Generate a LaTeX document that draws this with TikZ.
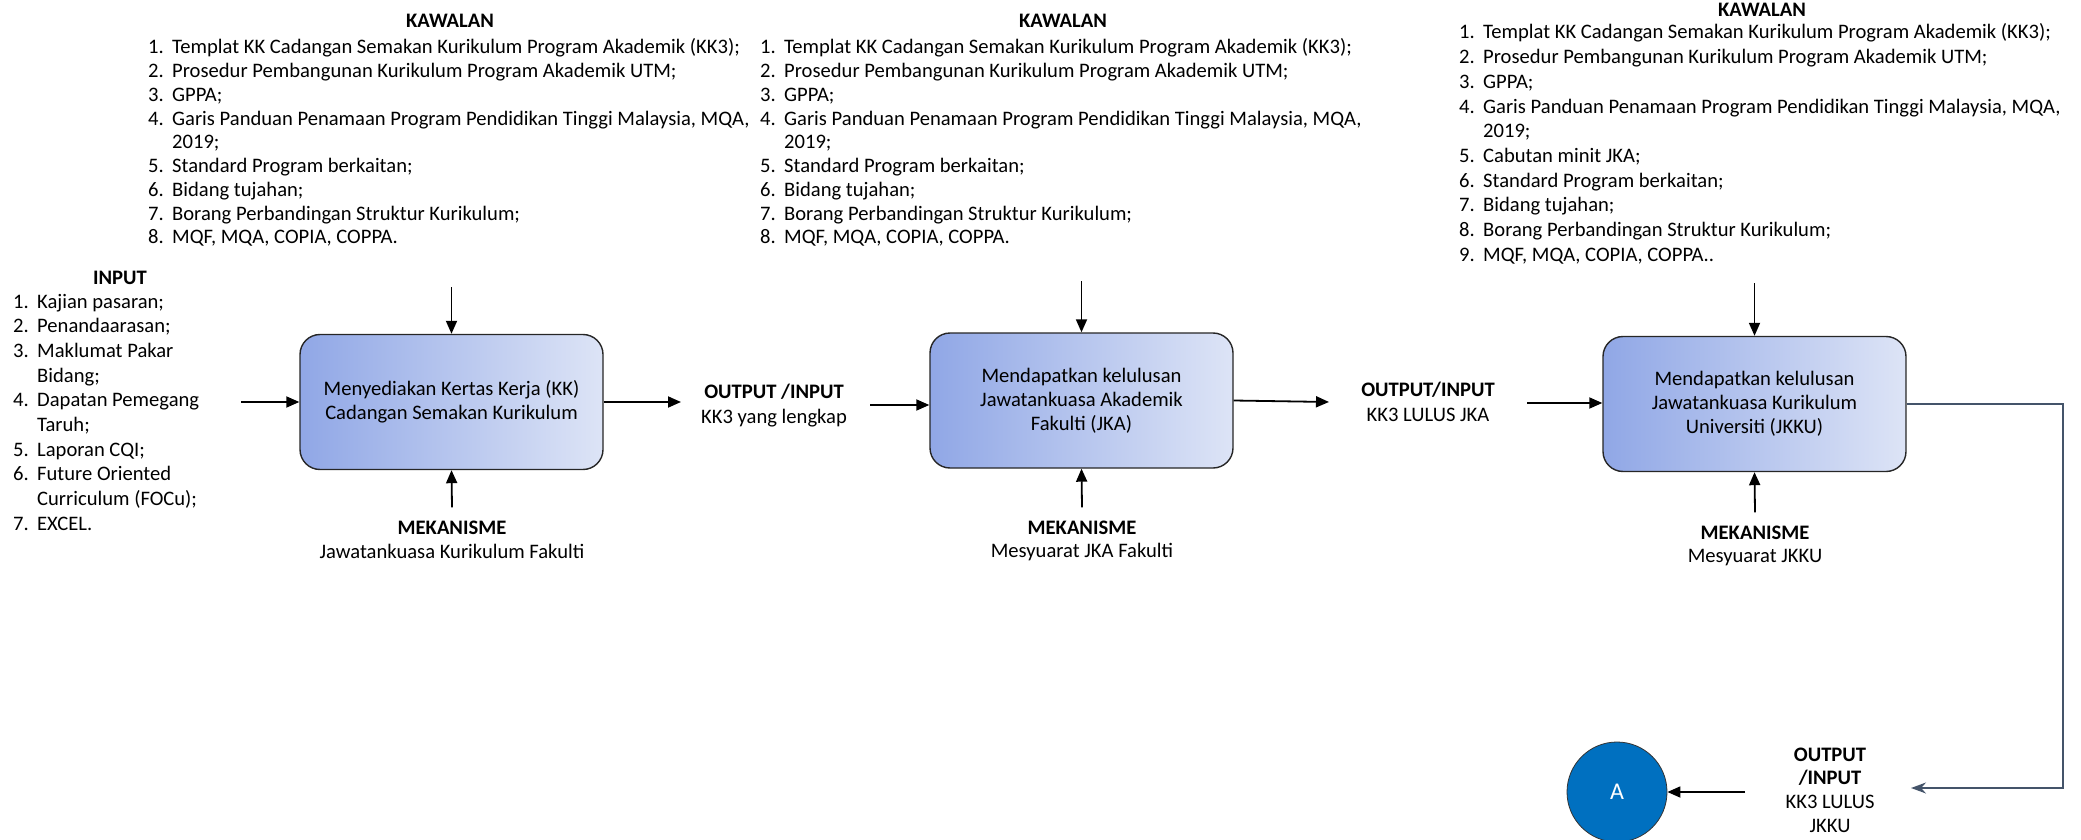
\documentclass[tikz,border=0pt]{standalone}
\usepackage{fontspec}
\setmainfont{Carlito}
\usetikzlibrary{arrows.meta,calc}
\newcommand\numit[1]{\makebox[24pt][l]{#1}}
\begin{document}
\begin{tikzpicture}[x=1pt,y=-1pt,
  txt/.style={font=\fontsize{20.6}{23.75}\selectfont, inner sep=0pt},
  lst/.style={txt, anchor=base west},
  lstw/.style={lst, font=\fontsize{20.6}{24.7}\selectfont},
  ttl/.style={font=\bfseries\fontsize{20.6}{24}\selectfont, inner sep=0pt, anchor=base},
  lbl/.style={txt, anchor=base},
  proc/.style={draw=black!85, line width=1.4pt, rounded corners=20pt,
    left color=boxL, right color=boxR, minimum width=303pt, minimum height=135pt,
    align=center, font=\fontsize{20.6}{24}\selectfont, inner sep=0pt},
  arr/.style={-{Triangle[length=13pt,width=11pt]}, line width=1.8pt},
  garr/.style={-{Stealth[length=15pt,width=11pt]}, line width=1.5pt, draw=slate},
]
\definecolor{boxL}{HTML}{90A7E6}
\definecolor{boxR}{HTML}{DDE4F6}
\definecolor{slate}{HTML}{44546A}
\definecolor{circA}{HTML}{0070C0}
\useasboundingbox (0,0) rectangle (2081,840);

% ---------- KAWALAN 1 ----------
\node[ttl] (kt1) at (450,28) {KAWALAN};
\node[lst] (kl1) at (148,54) {\begin{tabular}[t]{@{}l@{}}
\numit{1.}Templat KK Cadangan Semakan Kurikulum Program Akademik (KK3);\\
\numit{2.}Prosedur Pembangunan Kurikulum Program Akademik UTM;\\
\numit{3.}GPPA;\\
\numit{4.}Garis Panduan Penamaan Program Pendidikan Tinggi Malaysia, MQA,\\
\numit{}2019;\\
\numit{5.}Standard Program berkaitan;\\
\numit{6.}Bidang tujahan;\\
\numit{7.}Borang Perbandingan Struktur Kurikulum;\\
\numit{8.}MQF, MQA, COPIA, COPPA.
\end{tabular}};

% ---------- KAWALAN 2 ----------
\node[ttl] (kt2) at (1063,28) {KAWALAN};
\node[lst] (kl2) at (760,54) {\begin{tabular}[t]{@{}l@{}}
\numit{1.}Templat KK Cadangan Semakan Kurikulum Program Akademik (KK3);\\
\numit{2.}Prosedur Pembangunan Kurikulum Program Akademik UTM;\\
\numit{3.}GPPA;\\
\numit{4.}Garis Panduan Penamaan Program Pendidikan Tinggi Malaysia, MQA,\\
\numit{}2019;\\
\numit{5.}Standard Program berkaitan;\\
\numit{6.}Bidang tujahan;\\
\numit{7.}Borang Perbandingan Struktur Kurikulum;\\
\numit{8.}MQF, MQA, COPIA, COPPA.
\end{tabular}};

% ---------- KAWALAN 3 ----------
\node[ttl] (kt3) at (1762,17) {KAWALAN};
\node[lstw] (kl3) at (1459,39) {\begin{tabular}[t]{@{}l@{}}
\numit{1.}Templat KK Cadangan Semakan Kurikulum Program Akademik (KK3);\\
\numit{2.}Prosedur Pembangunan Kurikulum Program Akademik UTM;\\
\numit{3.}GPPA;\\
\numit{4.}Garis Panduan Penamaan Program Pendidikan Tinggi Malaysia, MQA,\\
\numit{}2019;\\
\numit{5.}Cabutan minit JKA;\\
\numit{6.}Standard Program berkaitan;\\
\numit{7.}Bidang tujahan;\\
\numit{8.}Borang Perbandingan Struktur Kurikulum;\\
\numit{9.}MQF, MQA, COPIA, COPPA..
\end{tabular}};

% ---------- INPUT ----------
\node[ttl] (it) at (120,284) {INPUT};
\node[lstw] (il) at (13,308) {\begin{tabular}[t]{@{}l@{}}
\numit{1.}Kajian pasaran;\\
\numit{2.}Penandaarasan;\\
\numit{3.}Maklumat Pakar\\
\numit{}Bidang;\\
\numit{4.}Dapatan Pemegang\\
\numit{}Taruh;\\
\numit{5.}Laporan CQI;\\
\numit{6.}Future Oriented\\
\numit{}Curriculum (FOCu);\\
\numit{7.}EXCEL.
\end{tabular}};

% ---------- process boxes ----------
\node[proc] (b1) at (451.5,402) {Menyediakan Kertas Kerja (KK)\\Cadangan Semakan Kurikulum};
\node[proc] (b2) at (1081.5,400.5) {Mendapatkan kelulusan\\Jawatankuasa Akademik\\Fakulti (JKA)};
\node[proc] (b3) at (1754.5,404) {Mendapatkan kelulusan\\Jawatankuasa Kurikulum\\Universiti (JKKU)};

% ---------- mechanisms ----------
\node[ttl] (mt1) at (452,534) {MEKANISME};
\node[lbl] (mx1) at (452,558) {Jawatankuasa Kurikulum Fakulti};
\node[ttl] (mt2) at (1082,534) {MEKANISME};
\node[lbl] (mx2) at (1082,557) {Mesyuarat JKA Fakulti};
\node[ttl] (mt3) at (1755,539) {MEKANISME};
\node[lbl] (mx3) at (1755,562) {Mesyuarat JKKU};

% ---------- output/input labels ----------
\node[ttl] (io1t) at (774,398) {OUTPUT /INPUT};
\node[lbl] (io1x) at (774,423) {KK3 yang lengkap};
\node[ttl] (io2t) at (1428,396) {OUTPUT/INPUT};
\node[lbl] (io2x) at (1428,421) {KK3 LULUS JKA};
\node[ttl] (io3t) at (1830,761) {OUTPUT};
\node[ttl] (io3u) at (1830,784) {/INPUT};
\node[lbl] (io3x) at (1830,808) {KK3 LULUS};
\node[lbl] (io3y) at (1830,832) {JKKU};

% ---------- connector A ----------
\node[circle, draw=black!80, line width=0.8pt, fill=circA, minimum size=100pt, inner sep=0pt,
      text=white, font=\fontsize{24}{28}\selectfont] (ca) at (1617,792) {A};

% ---------- coordinates ----------
\coordinate (t1) at (451.5,287);
\coordinate (t2) at (1081.5,281);
\coordinate (t3) at (1754.5,283);
\coordinate (in1) at (241,402);
\coordinate (o1) at (681,402);
\coordinate (in2) at (870,405);
\coordinate (o2) at (1329,402);
\coordinate (in3) at (1527,403);
\coordinate (r1) at (2063,404);
\coordinate (r2) at (2063,788);
\coordinate (r3) at (1911,788);
\coordinate (in4) at (1745,792);

% ---------- arrows ----------
\draw[arr] (t1) -- (b1.north);
\draw[arr] (t2) -- (b2.north);
\draw[arr] (t3) -- (b3.north);
\draw[arr] ([yshift=13pt]mt1.north) -- (b1.south);
\draw[arr] ([yshift=13pt]mt2.north) -- (b2.south);
\draw[arr] ([yshift=13pt]mt3.north) -- (b3.south);
\draw[arr] (in1) -- (b1.west);
\draw[arr] (b1.east) -- (o1);
\draw[arr] (in2) -- (in2 -| b2.west);
\draw[arr] (b2.east) -- (o2);
\draw[arr] (in3) -- (in3 -| b3.west);
\draw[garr] (b3.east) -- (r1) -- (r2) -- (r3);
\draw[arr] (in4) -- (ca.east);
\end{tikzpicture}
\end{document}
